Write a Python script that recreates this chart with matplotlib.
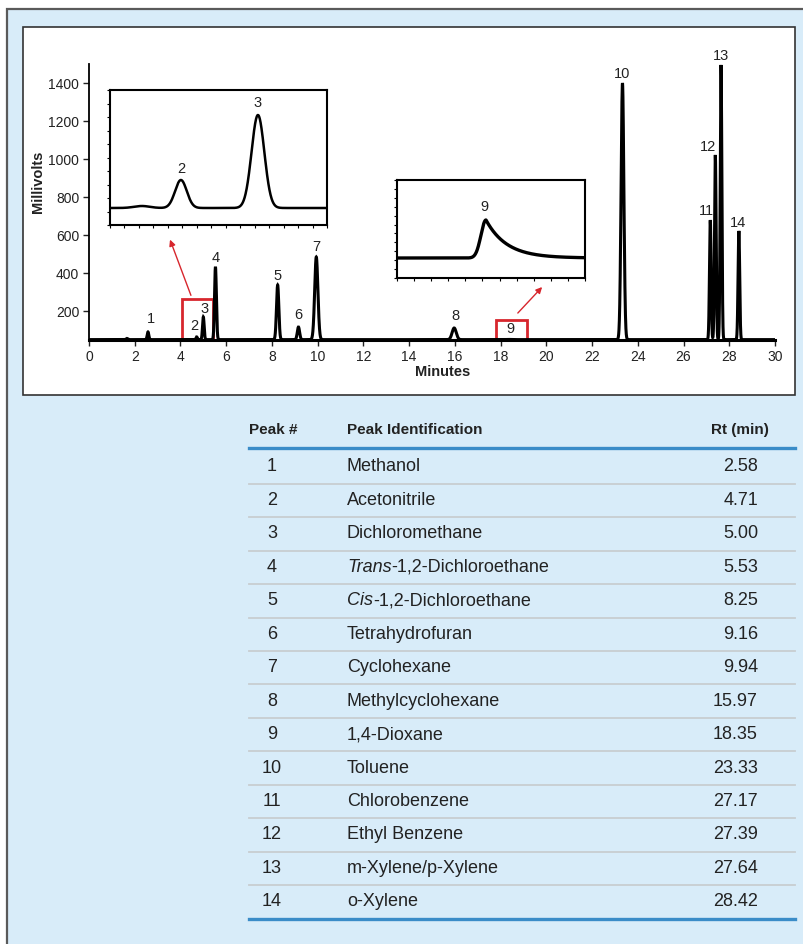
import numpy as np
import matplotlib
matplotlib.use("Agg")
import matplotlib.pyplot as plt
from matplotlib import font_manager
from matplotlib.patches import Rectangle
from matplotlib.lines import Line2D

# --- data -----------------------------------------------------------------
peak_no = [1, 2, 3, 4, 5, 6, 7, 8, 9, 10, 11, 12, 13, 14]
peak_name = ["Methanol", "Acetonitrile", "Dichloromethane",
             "Trans-1,2-Dichloroethane", "Cis-1,2-Dichloroethane",
             "Tetrahydrofuran", "Cyclohexane", "Methylcyclohexane",
             "1,4-Dioxane", "Toluene", "Chlorobenzene", "Ethyl Benzene",
             "m-Xylene/p-Xylene", "o-Xylene"]
peak_rt = [2.58, 4.71, 5.00, 5.53, 8.25, 9.16, 9.94, 15.97, 18.35,
           23.33, 27.17, 27.39, 27.64, 28.42]
rt_text = ["2.58", "4.71", "5.00", "5.53", "8.25", "9.16", "9.94", "15.97",
           "18.35", "23.33", "27.17", "27.39", "27.64", "28.42"]
# apex heights (mV)
peak_mv = [92, 66, 171, 434, 339, 118, 486, 113, 53, 1400, 680, 1022, 1495, 623]
peak_sd = [0.035, 0.03, 0.035, 0.04, 0.05, 0.05, 0.07, 0.09, 0.1,
           0.06, 0.035, 0.035, 0.035, 0.035]
# small unlabelled bump near the solvent front
extra_rt = [1.66]
extra_mv = [58]
extra_sd = [0.04]
baseline_mv = 52

# inset 1 (peaks 2 and 3 enlarged)
in1_rt = [4.563, 4.71, 5.00]
in1_h = [2, 28, 93]
in1_sd = [0.03, 0.022, 0.024]
in1_base = 17
# inset 2 (peak 9 enlarged)
in2_rise = 18.42
in2_h = 38
in2_base = 20

# --- fonts ----------------------------------------------------------------
names = {f.name for f in font_manager.fontManager.ttflist}
narrow = "Liberation Sans Narrow" if "Liberation Sans Narrow" in names else "Liberation Sans"
plt.rcParams['font.family'] = [narrow, 'DejaVu Sans']

W, H = 804, 944
fig = plt.figure(figsize=(W / 100, H / 100), dpi=100)


def fx(x):
    return x / W


def fy(y):
    return 1 - y / H


def px_axes(x0, y0, x1, y1):
    return fig.add_axes([fx(x0), fy(y1), fx(x1) - fx(x0), fy(y0) - fy(y1)])


# background
fig.patches.append(Rectangle((fx(7), fy(960)), fx(830) - fx(7), fy(9) - fy(960),
                             transform=fig.transFigure, facecolor='#d8ecf9',
                             edgecolor='#5a5a5a', lw=1.6, zorder=-10))
fig.patches.append(Rectangle((fx(23), fy(395)), fx(795) - fx(23), fy(27) - fy(395),
                             transform=fig.transFigure, facecolor='white',
                             edgecolor='#333333', lw=1.2, zorder=-9))

# --- main chromatogram ----------------------------------------------------
t = np.linspace(0, 30, 9001)
sig = np.full_like(t, float(baseline_mv))
for rt, mv, sd in zip(peak_rt + extra_rt, peak_mv + extra_mv, peak_sd + extra_sd):
    sig += (mv - baseline_mv) * np.exp(-0.5 * ((t - rt) / sd) ** 2)

ax = px_axes(89, 64, 775, 340)
ax.plot(t, sig, color='black', lw=2.2, solid_joinstyle='miter')
ax.set_xlim(0, 30)
ax.set_ylim(50, 1500)
ax.set_xticks(np.arange(0, 31, 2))
ax.set_yticks(np.arange(200, 1401, 200))
for s in ['top', 'right']:
    ax.spines[s].set_visible(False)
ax.spines['left'].set_linewidth(1.3)
ax.spines['bottom'].set_linewidth(2.2)
ax.tick_params(direction='out', length=4, width=1, labelsize=10, colors='#222222', pad=3)
ax.patch.set_alpha(0)

label_dx = [3, -2, 1, 0, 0, 0, 0, 1, 2, 0, -4, -7, 0, -1]
label_dy = [13, 11, 8, 9, 9, 12, 10, 12, 10, 9, 9, 8, 9, 8]
for n, rt, mv, dx, dy in zip(peak_no, peak_rt, peak_mv, label_dx, label_dy):
    ax.annotate(str(n), (rt, mv), xytext=(dx, dy), textcoords='offset pixels',
                ha='center', va='center', fontsize=10.5, color='#222222')

# red boxes and arrows
red = '#d7262d'
ax.add_patch(Rectangle((4.07, 48), 1.35, 218, fill=False, edgecolor=red, lw=2, clip_on=False))
ax.add_patch(Rectangle((17.8, 48), 1.35, 107, fill=False, edgecolor=red, lw=2, clip_on=False))
ax.annotate('', xy=(3.50, 591), xytext=(4.50, 271),
            arrowprops=dict(arrowstyle='-|>', color=red, lw=1, mutation_scale=9))
ax.annotate('', xy=(19.9, 339), xytext=(18.67, 181),
            arrowprops=dict(arrowstyle='-|>', color=red, lw=1, mutation_scale=9))

fig.text(fx(38), fy(182), 'Millivolts', rotation=90, ha='center', va='center',
         fontsize=10.5, fontweight='bold', color='#222222')
fig.text(fx(443), fy(372), 'Minutes', ha='center', va='center',
         fontsize=10.5, fontweight='bold', color='#222222')

# --- inset 1 --------------------------------------------------------------
a1 = px_axes(110, 90, 327, 225)
t1 = np.linspace(4.443, 5.26, 1200)
s1 = np.full_like(t1, float(in1_base))
for rt, h, sd in zip(in1_rt, in1_h, in1_sd):
    s1 += h * np.exp(-0.5 * ((t1 - rt) / sd) ** 2)
a1.plot(t1, s1, color='black', lw=1.8)
a1.set_xlim(4.443, 5.26)
a1.set_ylim(0, 135)
a1.set_xticks(np.linspace(4.443, 5.26, 16))
a1.set_yticks(np.linspace(0, 135, 11))
a1.annotate('2', (in1_rt[1], in1_base + in1_h[1]), xytext=(0, 11), textcoords='offset pixels',
            ha='center', va='center', fontsize=10.5, color='#222222')
a1.annotate('3', (in1_rt[2], in1_base + in1_h[2]), xytext=(0, 12), textcoords='offset pixels',
            ha='center', va='center', fontsize=10.5, color='#222222')

# --- inset 2 --------------------------------------------------------------
a2 = px_axes(397, 180, 585, 278)
t2 = np.linspace(17.0, 20.0, 1200)
shape = np.where(t2 < in2_rise, np.exp(-0.5 * ((t2 - in2_rise) / 0.08) ** 2),
                 np.exp(-(t2 - in2_rise) / 0.33))
s2 = in2_base + in2_h * shape
a2.plot(t2, s2, color='black', lw=2.4)
a2.set_xlim(17.0, 20.0)
a2.set_ylim(0, 98)
a2.set_xticks(np.linspace(17.0, 20.0, 12))
a2.set_yticks(np.linspace(0, 98, 12))
a2.annotate('9', (in2_rise, in2_base + in2_h), xytext=(-2, 13), textcoords='offset pixels',
            ha='center', va='center', fontsize=10.5, color='#222222')

for a in (a1, a2):
    for s in a.spines.values():
        s.set_linewidth(1.5)
    a.tick_params(direction='out', length=2, width=0.8, labelleft=False, labelbottom=False)

# --- table ----------------------------------------------------------------
txt = '#222222'
fig.text(fx(249), fy(430), 'Peak #', ha='left', va='center', fontsize=11,
         fontweight='bold', color=txt)
fig.text(fx(347), fy(430), 'Peak Identification', ha='left', va='center', fontsize=11,
         fontweight='bold', color=txt)
fig.text(fx(769), fy(430), 'Rt (min)', ha='right', va='center', fontsize=11,
         fontweight='bold', color=txt)

blue = '#3a8cc8'
fig.add_artist(Line2D([fx(249), fx(795)], [fy(448), fy(448)], color=blue, lw=2.4))
fig.add_artist(Line2D([fx(249), fx(795)], [fy(919), fy(919)], color=blue, lw=2.4))

renderer = fig.canvas.get_renderer()
row0, step = 467, 33.45
for i, (n, name, rt) in enumerate(zip(peak_no, peak_name, rt_text)):
    y = row0 + i * step
    fig.text(fx(272), fy(y), str(n), ha='center', va='center', fontsize=13, color=txt)
    if name.startswith(('Trans', 'Cis')):
        head, tail = name.split('-', 1)
        t_it = fig.text(fx(347), fy(y), head, ha='left', va='center', fontsize=13,
                        style='italic', color=txt)
        bb = t_it.get_window_extent(renderer)
        fig.text(bb.x1 / W, fy(y), '-' + tail, ha='left', va='center', fontsize=13, color=txt)
    else:
        fig.text(fx(347), fy(y), name, ha='left', va='center', fontsize=13, color=txt)
    fig.text(fx(758), fy(y), rt, ha='right', va='center', fontsize=13, color=txt)
    if i < len(peak_no) - 1:
        ys = y + step / 2
        fig.add_artist(Line2D([fx(249), fx(795)], [fy(ys), fy(ys)], color='#c8cdd1', lw=1.3))

fig.savefig('out.png', dpi=100)
